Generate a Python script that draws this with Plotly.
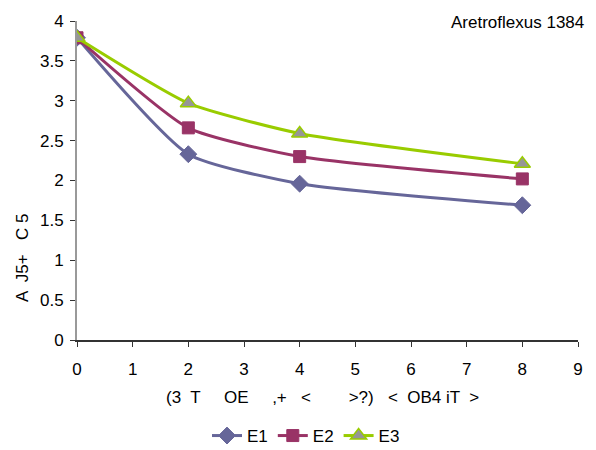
import plotly.graph_objects as go

# Measured series
x_vals = [0, 2, 4, 8]
e1 = [3.79, 2.33, 1.96, 1.69]
e2 = [3.79, 2.66, 2.30, 2.02]
e3 = [3.79, 2.97, 2.59, 2.21]
series_names = ["E1", "E2", "E3"]

x_title = "(3  T     OE     ,+   <        >?)   <  OB4 iT  >"
y_title = "A  J5+   C 5"
note = "Aretroflexus 1384"

font_family = "Liberation Sans, Arial, sans-serif"

# plot-area geometry in pixels
W, H = 596, 450
ML, MR, MT, MB = 77, 18, 21, 110
PW, PH = W - ML - MR, H - MT - MB


def px_x(p):
    return (p - ML) / PW


def px_y(p):
    return (H - MB - p) / PH


fig = go.Figure()

styles = [
    dict(line=dict(color="#666699", width=3, shape="spline", smoothing=0.55),
         marker=dict(symbol="diamond", size=13, color="#666699",
                     line=dict(color="#666699", width=1))),
    dict(line=dict(color="#993366", width=3, shape="spline", smoothing=0.55),
         marker=dict(symbol="square", size=12, color="#993366",
                     line=dict(color="#993366", width=1))),
    dict(line=dict(color="#99CC00", width=3, shape="spline", smoothing=0.55),
         marker=dict(symbol="triangle-up", size=14, color="#969696",
                     line=dict(color="#99CC00", width=1.5))),
]

for name, ys, st in zip(series_names, [e1, e2, e3], styles):
    fig.add_trace(go.Scatter(x=x_vals, y=ys, name=name, mode="lines+markers",
                             line=st["line"], marker=st["marker"]))

fig.update_layout(
    width=W, height=H,
    margin=dict(l=ML, r=MR, t=MT, b=MB, autoexpand=False),
    paper_bgcolor="white", plot_bgcolor="white",
    font=dict(family=font_family, size=17, color="black"),
    showlegend=True,
    legend=dict(orientation="h", x=px_x(306), xanchor="center",
                y=px_y(436), yanchor="middle",
                font=dict(size=17), tracegroupgap=0),
    annotations=[
        dict(text=note, x=px_x(586), xref="paper", xanchor="right",
             y=px_y(22), yref="paper", yanchor="middle",
             showarrow=False, font=dict(size=17)),
        dict(text=x_title, x=px_x(322), xref="paper", xanchor="center",
             y=px_y(397), yref="paper", yanchor="middle",
             showarrow=False, font=dict(size=17)),
        dict(text=y_title, x=px_x(22), xref="paper", xanchor="center",
             y=px_y(258), yref="paper", yanchor="middle", textangle=-90,
             showarrow=False, font=dict(size=17)),
    ],
)

fig.update_xaxes(
    range=[0, 9], dtick=1, showgrid=False, zeroline=False,
    showline=True, linecolor="#333333", linewidth=1.5,
    ticks="outside", ticklen=5, tickcolor="#333333",
    ticklabelstandoff=8,
)
fig.update_yaxes(
    range=[0, 4], dtick=0.5, showgrid=False, zeroline=False,
    showline=True, linecolor="#999999", linewidth=2,
    ticks="outside", ticklen=5, tickcolor="#333333",
    ticklabelstandoff=3,
)

fig.write_html("out.html")
